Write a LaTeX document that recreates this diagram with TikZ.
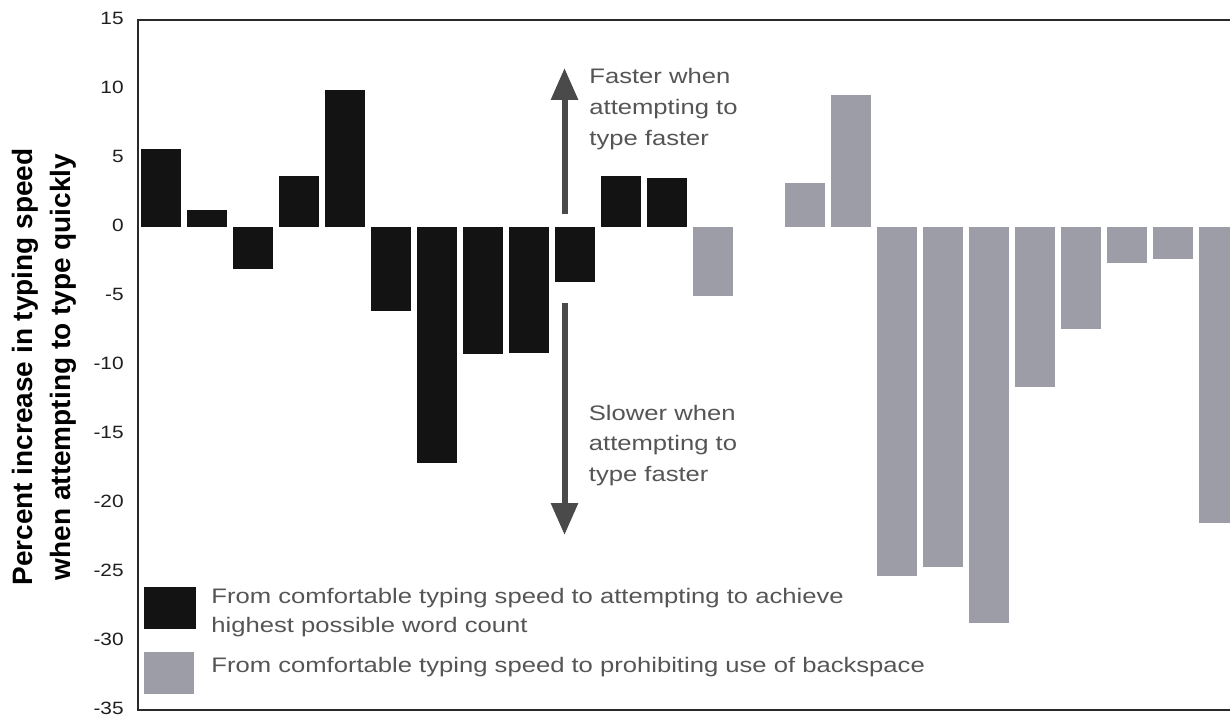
\documentclass[tikz,border=0pt]{standalone}
\usepackage{fontspec}
\setmainfont{Liberation Sans}
\newfontfamily\widesans[FakeStretch=1.22]{Liberation Sans}
\newfontfamily\ticksans[FakeStretch=1.17]{Liberation Sans}
\usetikzlibrary{arrows.meta}
\definecolor{barblack}{HTML}{131313}
\definecolor{bargray}{HTML}{9C9DA6}
\definecolor{arrowgray}{HTML}{4A4A4A}
\definecolor{textgray}{HTML}{555555}
\definecolor{axisdark}{HTML}{2A2A2A}
\definecolor{ticktext}{HTML}{1E1E1E}
\begin{document}
\begin{tikzpicture}[x=0.5pt,y=-0.5pt,
  axisline/.style={draw=axisdark,line width=1pt},
  ticklabel/.style={anchor=east,inner sep=0pt,text=ticktext,font=\ticksans\fontsize{8.9}{10}\selectfont},
  ytitle/.style={rotate=90,align=center,inner sep=0pt,font=\bfseries\fontsize{14}{19}\selectfont},
  note/.style={anchor=base west,align=left,inner sep=0pt,text=textgray,font=\widesans\fontsize{10.5}{15.4}\selectfont},
  legendtext/.style={anchor=base west,align=left,inner sep=0pt,text=textgray,font=\widesans\fontsize{10.5}{14.85}\selectfont},
  hint/.style={draw=arrowgray,line width=3pt,-{Triangle[width=13pt,length=16pt]}}]
\useasboundingbox (0,0) rectangle (1230,717);
\fill[white] (0,0) rectangle (1230,717);

% bars: slot number / percent change / colour (slot 14 is empty)
\foreach \k/\v/\c in {1/5.65/barblack,2/1.25/barblack,3/-3.0/barblack,4/3.74/barblack,
  5/9.95/barblack,6/-6.03/barblack,7/-17.1/barblack,8/-9.18/barblack,9/-9.09/barblack,
  10/-3.96/barblack,11/3.72/barblack,12/3.59/barblack,
  13/-4.96/bargray,15/3.23/bargray,16/9.61/bargray,17/-25.3/bargray,18/-24.6/bargray,
  19/-28.7/bargray,20/-11.6/bargray,21/-7.35/bargray,22/-2.61/bargray,23/-2.30/bargray,
  24/-21.4/bargray}{
  \pgfmathsetmacro\xl{141+46*(\k-1)}
  \fill[\c] (\xl,227.3) rectangle ({\xl+39.5},{227.3-13.8*\v});
}

% frame
\coordinate (ne) at (1232,20.3);
\coordinate (nw) at (138,20.3);
\coordinate (sw) at (138,710.3);
\coordinate (se) at (1232,710.3);
\draw[axisline] (ne) -- (nw) -- (sw) -- (se);

% y tick labels
\foreach \v in {15,10,5,0,-5,-10,-15,-20,-25,-30,-35}
  \node[ticklabel] (t\v) at (124,{225.8-13.8*\v}) {\v};

% axis title
\node[ytitle] (ylab) at (44,367) {Percent increase in typing speed\\when attempting to type quickly};

% direction hints
\coordinate (upfrom) at (564.5,214);
\coordinate (upto) at (564.5,68);
\coordinate (downfrom) at (564.5,303);
\coordinate (downto) at (564.5,535);
\draw[hint] (upfrom) -- (upto);
\draw[hint] (downfrom) -- (downto);
\node[note] (faster) at (589,145) {Faster when\\attempting to\\type faster};
\node[note] (slower) at (588.5,481.7) {Slower when\\attempting to\\type faster};

% legend
\fill[barblack] (144,587.3) rectangle (196,629.3);
\fill[bargray] (144,652.3) rectangle (194,694);
\node[legendtext] (leg1) at (211,632.7) {From comfortable typing speed to attempting to achieve\\highest possible word count};
\node[legendtext] (leg2) at (211,672.7) {From comfortable typing speed to prohibiting use of backspace};
\end{tikzpicture}
\end{document}
